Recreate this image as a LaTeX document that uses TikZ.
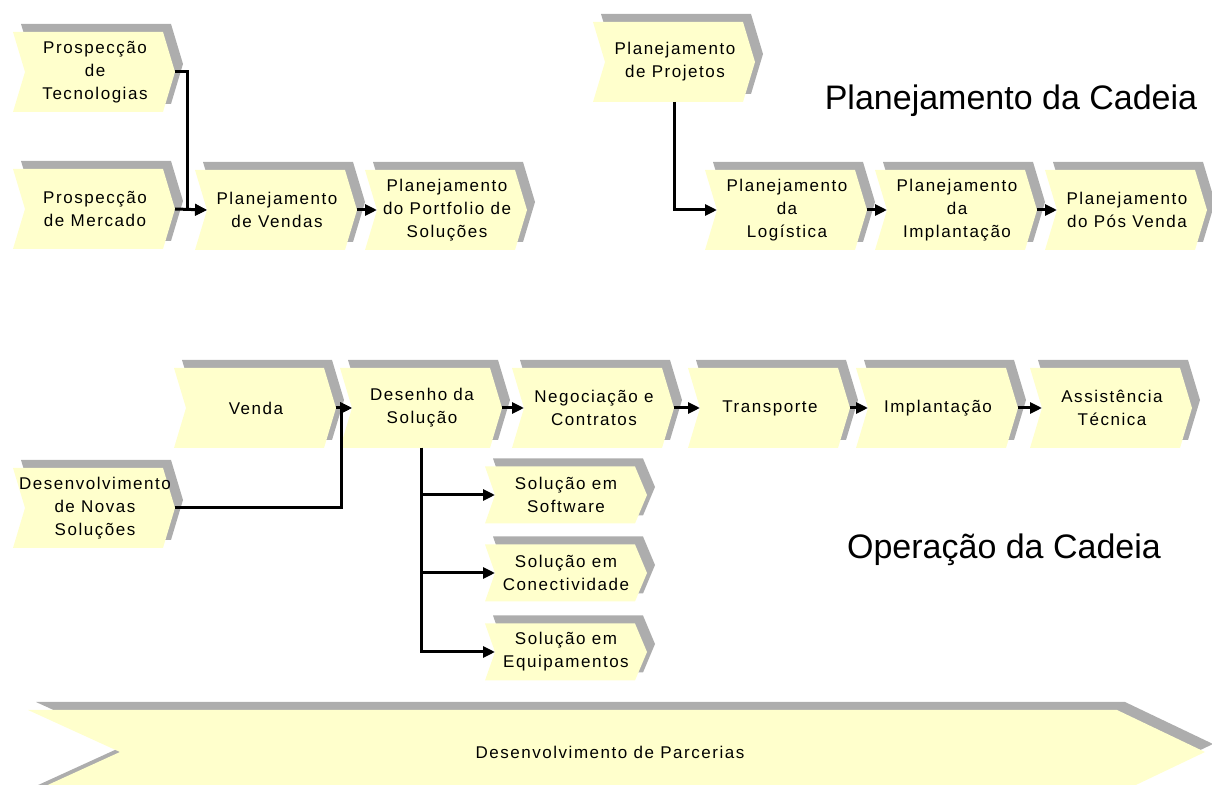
\documentclass[tikz,border=0pt]{standalone}
\usepackage{fontspec}
\setmainfont{Liberation Sans}
\newfontfamily\boxfont{Liberation Sans}[LetterSpace=9]
\usetikzlibrary{arrows.meta,calc}
\definecolor{chevfill}{HTML}{FFFFCC}
\definecolor{chevshade}{HTML}{ADADAD}

\tikzset{
  boxtext/.style={align=center, font=\boxfont\fontsize{8.5}{11.5}\selectfont, inner sep=0pt},
  conn/.style={line width=1.5pt, -{Triangle[length=6pt,width=5.5pt]}},
  chevshadow/.style={fill=chevshade},
  chevbody/.style={fill=chevfill},
  heading/.style={font=\fontsize{17}{20}\selectfont, inner sep=0pt}
}

% #1 name, #2 left x, #3 centre y, #4 height, #5 notch depth, #6 text
\newcommand{\chevbox}[6]{%
  \fill[chevshadow] (#2+8,#3-8-#4/2) -- ++(150,0) -- ++(12,#4/2) -- ++(-12,#4/2) -- ++(-150,0) -- ++(#5,-#4/2) -- cycle;
  \fill[chevbody] (#2,#3-#4/2) -- ++(150,0) -- ++(12,#4/2) -- ++(-12,#4/2) -- ++(-150,0) -- ++(#5,-#4/2) -- cycle;
  \node[boxtext] (#1) at (#2+76+#5/2,#3) {#6};
  \coordinate (#1-in) at (#2+#5,#3);
  \coordinate (#1-out) at (#2+162,#3);
  \coordinate (#1-s) at (#2+81,#3+#4/2);
}

\begin{document}
\begin{tikzpicture}[x=0.5pt,y=-0.5pt]
\useasboundingbox (0,0) rectangle (1212,785);

% chain planning, left group
\chevbox{pt}{13}{72}{80}{12}{Prospecção\\de\\Tecnologias}
\chevbox{pm}{13}{209}{80}{12}{Prospecção\\de Mercado}
\chevbox{pv}{195}{210}{80}{12}{Planejamento\\de Vendas}
\chevbox{pps}{365}{210}{80}{12}{Planejamento\\do Portfolio de\\Soluções}

% chain planning, right group
\chevbox{pp}{593}{62}{80}{12}{Planejamento\\de Projetos}
\chevbox{pl}{705}{210}{80}{12}{Planejamento\\da\\Logística}
\chevbox{pimp}{875}{210}{80}{12}{Planejamento\\da\\Implantação}
\chevbox{ppv}{1045}{210}{80}{12}{Planejamento\\do Pós Venda}

\node[heading] (tplan) at (1011,101) {Planejamento da Cadeia};

% chain operation
\chevbox{ven}{174}{408}{80}{12}{Venda}
\chevbox{des}{340}{408}{80}{12}{Desenho da\\Solução}
\chevbox{neg}{512}{408}{80}{12}{Negociação e\\Contratos}
\chevbox{tra}{688}{408}{80}{12}{Transporte}
\chevbox{imp}{856}{408}{80}{12}{Implantação}
\chevbox{ass}{1030}{408}{80}{12}{Assistência\\Técnica}
\chevbox{dns}{13}{508}{80}{12}{Desenvolvimento\\de Novas\\Soluções}
\chevbox{ssw}{485}{495}{57}{10}{Solução em\\Software}
\chevbox{scn}{485}{573}{57}{10}{Solução em\\Conectividade}
\chevbox{seq}{485}{652}{57}{10}{Solução em\\Equipamentos}

\node[heading] (topr) at (1004,550) {Operação da Cadeia};

% partnership banner along the bottom
\fill[chevshadow] (36,702) -- (1125,702) -- (1213,744) -- (1125,786) -- (36,786) -- (128,744) -- cycle;
\fill[chevbody] (28,710) -- (1117,710) -- (1205,752) -- (1117,794) -- (28,794) -- (120,752) -- cycle;
\node[boxtext] (par) at (610,752) {Desenvolvimento de Parcerias};

% connectors
\draw[conn] (pm-out) -- (pv-in);
\draw[conn] (pt-out) -| ([xshift=-10pt]pv-in) -- (pv-in);
\draw[conn] (pv-out) -- (pps-in);
\draw[conn] (pp-s) |- (pl-in);
\draw[conn] (pl-out) -- (pimp-in);
\draw[conn] (pimp-out) -- (ppv-in);
\draw[conn] (ven-out) -- (des-in);
\draw[conn] (dns-out) -| ([xshift=-5.5pt]des-in) -- (des-in);
\draw[conn] (des-out) -- (neg-in);
\draw[conn] (neg-out) -- (tra-in);
\draw[conn] (tra-out) -- (imp-in);
\draw[conn] (imp-out) -- (ass-in);
\draw[conn] (des-s) |- (ssw-in);
\draw[conn] (des-s) |- (scn-in);
\draw[conn] (des-s) |- (seq-in);
\end{tikzpicture}
\end{document}
